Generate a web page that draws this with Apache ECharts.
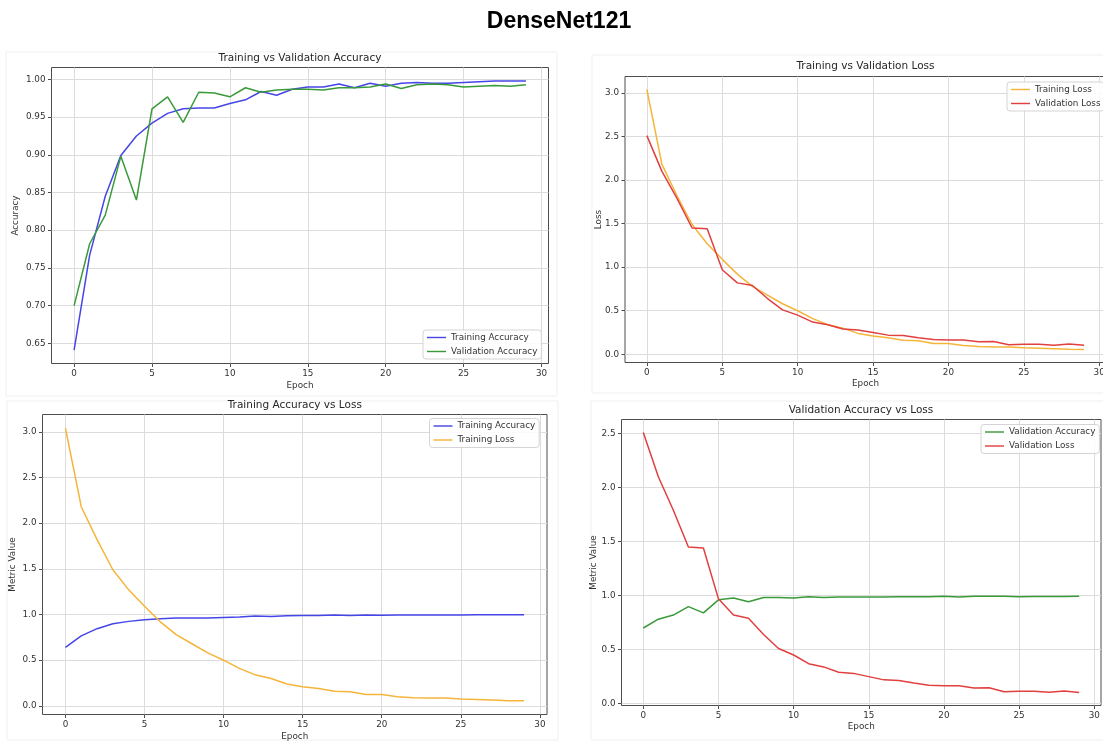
<!DOCTYPE html>
<html>
<head>
<meta charset="utf-8">
<title>DenseNet121</title>
<script src="https://cdn.jsdelivr.net/npm/echarts@6/dist/echarts.min.js"></script>
<style>
    html, body { margin: 0; padding: 0; background: #fff; }
    #chart-content { width: 1103px; height: 743px; }
</style>
</head>
<body>
<div id="chart-content"></div>
<script>
var epochs = [0, 1, 2, 3, 4, 5, 6, 7, 8, 9, 10, 11, 12, 13, 14, 15, 16, 17, 18, 19, 20, 21, 22, 23, 24, 25, 26, 27, 28, 29];

var trainAcc = [0.641, 0.767, 0.845, 0.899, 0.925, 0.942, 0.955, 0.961, 0.962, 0.962, 0.968, 0.973, 0.984, 0.979, 0.987,
    0.990, 0.990, 0.994, 0.989, 0.995, 0.991, 0.995, 0.996, 0.995, 0.995, 0.996, 0.997, 0.998, 0.998, 0.998];
var valAcc = [0.700, 0.782, 0.820, 0.898, 0.840, 0.961, 0.977, 0.943, 0.983, 0.982, 0.977, 0.989, 0.983, 0.986, 0.987,
    0.987, 0.986, 0.989, 0.989, 0.990, 0.994, 0.988, 0.993, 0.994, 0.993, 0.990, 0.991, 0.992, 0.991, 0.993];
var trainLoss = [3.04, 2.18, 1.82, 1.49, 1.27, 1.09, 0.92, 0.78, 0.68, 0.58, 0.50, 0.41, 0.34, 0.30, 0.24,
    0.21, 0.19, 0.16, 0.155, 0.125, 0.125, 0.10, 0.09, 0.085, 0.085, 0.075, 0.07, 0.065, 0.057, 0.055];
var valLoss = [2.51, 2.10, 1.79, 1.45, 1.44, 0.97, 0.82, 0.79, 0.64, 0.51, 0.45, 0.37, 0.34, 0.29, 0.28,
    0.25, 0.22, 0.215, 0.19, 0.17, 0.165, 0.165, 0.145, 0.147, 0.11, 0.115, 0.115, 0.105, 0.118, 0.103];

var xTicks = [0, 5, 10, 15, 20, 25, 30];
var accTicks = [0.65, 0.70, 0.75, 0.80, 0.85, 0.90, 0.95, 1.00];
var lossTicks = [0.0, 0.5, 1.0, 1.5, 2.0, 2.5, 3.0];
var valMetricTicks = [0.0, 0.5, 1.0, 1.5, 2.0, 2.5];

var FONT = 'DejaVu Sans';
var colors = {
    'Training Accuracy': '#4646e8',
    'Validation Accuracy': '#3a9a3a',
    'Training Loss': '#f5b43a',
    'Validation Loss': '#e23f3f'
};

function pairs(ys) {
    return epochs.map(function (e, i) { return [e, ys[i]]; });
}

// matplotlib style autoscale: 5% margin each side
function range(arrs) {
    var lo = Infinity, hi = -Infinity;
    arrs.forEach(function (a) {
        a.forEach(function (v) { lo = Math.min(lo, v); hi = Math.max(hi, v); });
    });
    var m = (hi - lo) * 0.05;
    return [lo - m, hi + m];
}

var panels = [
    {title: 'Training vs Validation Accuracy', grid: [51.5, 67.5, 497, 296], titlePos: [300, 52.5],
        yName: 'Accuracy', yGap: 31, xGap: 18, yTicks: accTicks, dec: 2,
        lines: [['Training Accuracy', trainAcc], ['Validation Accuracy', valAcc]], legend: [423, 330]},
    {title: 'Training vs Validation Loss', grid: [625, 76.5, 481, 286], titlePos: [865.5, 61],
        yName: 'Loss', yGap: 22, xGap: 17, yTicks: lossTicks, dec: 1,
        lines: [['Training Loss', trainLoss], ['Validation Loss', valLoss]], legend: [1007, 82]},
    {title: 'Training Accuracy vs Loss', grid: [42.5, 414.5, 504.5, 300], titlePos: [294.8, 400],
        yName: 'Metric Value', yGap: 25, xGap: 18, yTicks: lossTicks, dec: 1,
        lines: [['Training Accuracy', trainAcc], ['Training Loss', trainLoss]], legend: [429.5, 418.5]},
    {title: 'Validation Accuracy vs Loss', grid: [621.5, 419.5, 479.5, 286], titlePos: [861, 405],
        yName: 'Metric Value', yGap: 23, xGap: 17, yTicks: valMetricTicks, dec: 1,
        lines: [['Validation Accuracy', valAcc], ['Validation Loss', valLoss]], legend: [981, 424.5]}
];

var option = {
    animation: false,
    backgroundColor: '#fff',
    title: [{
        text: 'DenseNet121', left: 559, top: 10, textAlign: 'center', padding: 0,
        textStyle: {fontFamily: 'Liberation Sans', fontWeight: 'bold', fontSize: 23, color: '#000'}
    }],
    graphic: [
        {type: 'rect', shape: {x: 6, y: 52, width: 551, height: 344}, style: {fill: 'none', stroke: '#efefef'}},
        {type: 'rect', shape: {x: 592, y: 55, width: 520, height: 338}, style: {fill: 'none', stroke: '#efefef'}},
        {type: 'rect', shape: {x: 7, y: 401, width: 551, height: 339}, style: {fill: 'none', stroke: '#efefef'}},
        {type: 'rect', shape: {x: 591, y: 401, width: 520, height: 339}, style: {fill: 'none', stroke: '#efefef'}}
    ],
    grid: [],
    xAxis: [],
    yAxis: [],
    legend: [],
    series: []
};

panels.forEach(function (p, i) {
    var xr = range([epochs]);
    var yr = range(p.lines.map(function (l) { return l[1]; }));

    option.grid.push({
        left: p.grid[0], top: p.grid[1], width: p.grid[2], height: p.grid[3],
        containLabel: false, outerBoundsMode: 'none',
        show: true, borderColor: '#4d4d4d', borderWidth: 1, backgroundColor: 'transparent'
    });
    option.title.push({
        text: p.title, left: p.titlePos[0], top: p.titlePos[1], textAlign: 'center', padding: 0,
        textStyle: {fontFamily: FONT, fontWeight: 'normal', fontSize: 10.5, color: '#262626'}
    });
    option.xAxis.push({
        type: 'value', gridIndex: i, min: xr[0], max: xr[1],
        name: 'Epoch', nameLocation: 'middle', nameGap: p.xGap, nameMoveOverlap: false,
        nameTextStyle: {fontFamily: FONT, fontSize: 8.8, color: '#333'},
        axisLine: {show: false, onZero: false},
        axisTick: {show: true, length: 3.5, customValues: xTicks, lineStyle: {color: '#4d4d4d'}},
        axisLabel: {customValues: xTicks, margin: 6, fontFamily: FONT, fontSize: 8.8, color: '#333'},
        splitLine: {show: true, lineStyle: {color: '#dcdcdc', width: 1}}
    });
    option.yAxis.push({
        type: 'value', gridIndex: i, min: yr[0], max: yr[1],
        name: p.yName, nameLocation: 'middle', nameGap: p.yGap, nameRotate: 90, nameMoveOverlap: false,
        nameTextStyle: {fontFamily: FONT, fontSize: 8.8, color: '#333'},
        axisLine: {show: false, onZero: false},
        axisTick: {show: true, length: 3.5, customValues: p.yTicks, lineStyle: {color: '#4d4d4d'}},
        axisLabel: {
            customValues: p.yTicks, margin: 6, fontFamily: FONT, fontSize: 8.8, color: '#333',
            formatter: (function (d) { return function (v) { return Number(v).toFixed(d); }; })(p.dec)
        },
        splitLine: {show: true, lineStyle: {color: '#dcdcdc', width: 1}}
    });
    option.legend.push({
        orient: 'vertical', left: p.legend[0], top: p.legend[1],
        padding: [3, 4, 3, 4], itemWidth: 19, itemHeight: 9, itemGap: 5,
        icon: 'path://M0,0H20V1.5H0Z', symbolKeepAspect: true,
        backgroundColor: 'rgba(255,255,255,0.85)', borderColor: '#d4d4d4', borderWidth: 1, borderRadius: 3,
        textStyle: {fontFamily: FONT, fontSize: 8.8, color: '#333'},
        data: p.lines.map(function (l) { return l[0]; })
    });
    p.lines.forEach(function (l) {
        option.series.push({
            name: l[0], type: 'line', xAxisIndex: i, yAxisIndex: i,
            data: pairs(l[1]), symbol: 'none', smooth: false,
            color: colors[l[0]],
            lineStyle: {color: colors[l[0]], width: 1.5}
        });
    });
});

var myChart = echarts.init(document.getElementById('chart-content'));
myChart.setOption(option);
</script>
</body>
</html>
